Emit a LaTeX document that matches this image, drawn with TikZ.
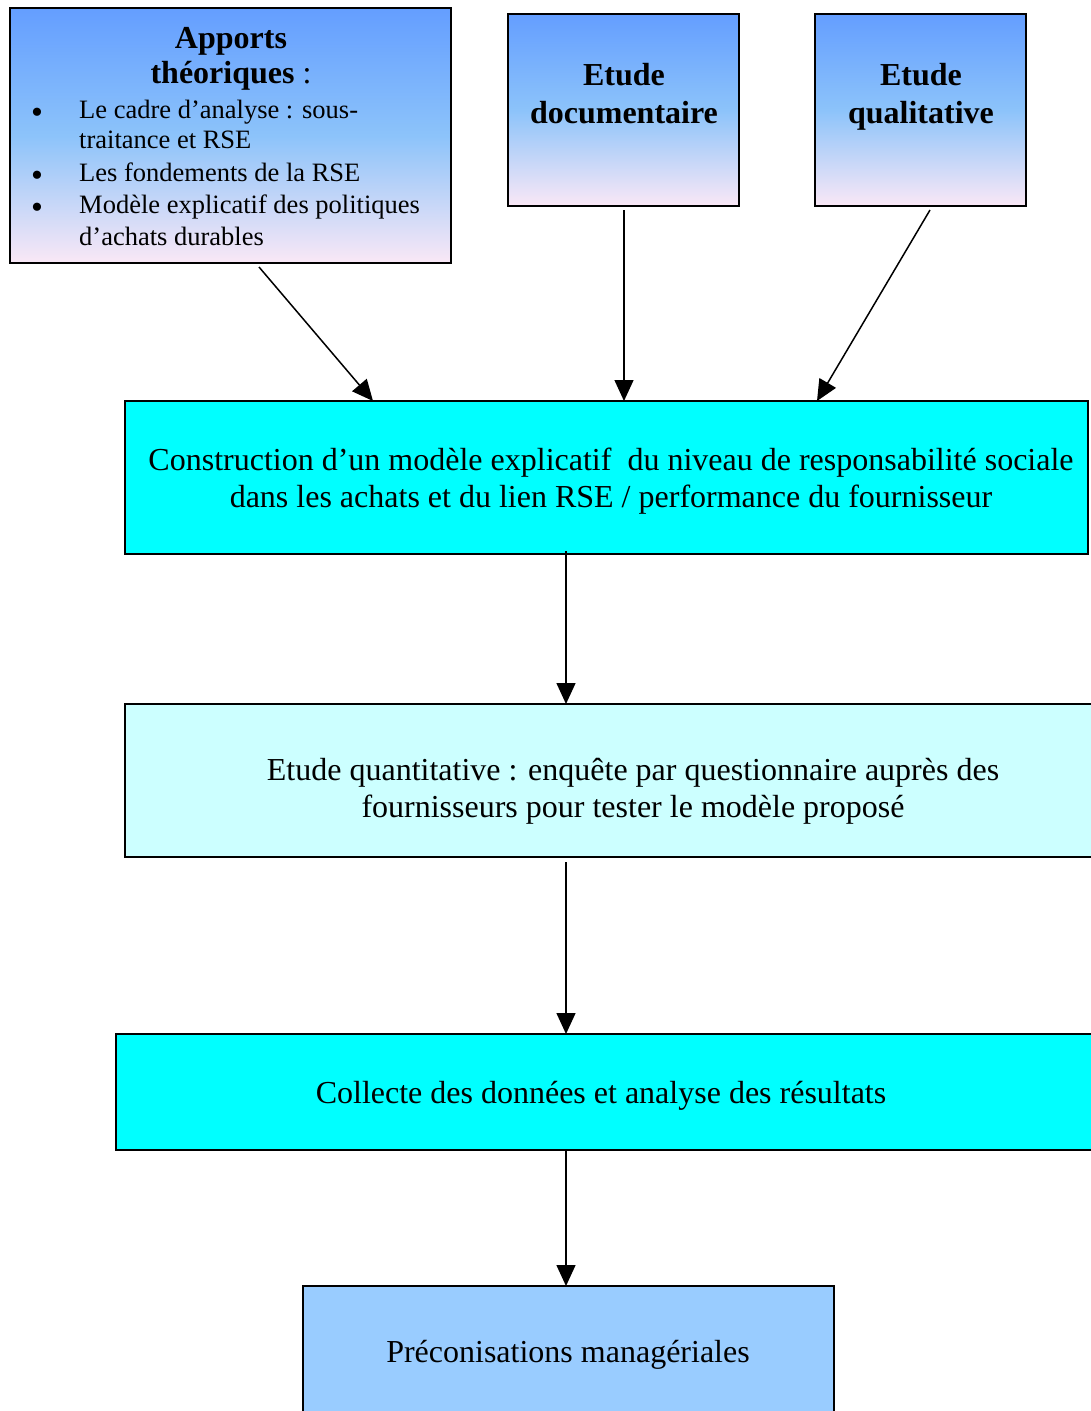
\documentclass[tikz,border=0pt]{standalone}
\usepackage{fontspec}
\setmainfont{Liberation Serif}
\usetikzlibrary{arrows.meta}
\definecolor{gtop}{RGB}{100,158,255}
\definecolor{gmid}{RGB}{140,195,250}
\definecolor{gbot}{RGB}{250,232,246}
\definecolor{cyanbox}{RGB}{0,255,255}
\definecolor{palecyan}{RGB}{204,255,255}
\definecolor{skyblue}{RGB}{153,204,255}
\tikzset{
  box/.style={draw=black, line width=1.6pt, inner sep=0pt, outer sep=0pt},
  gradbox/.style={box, top color=gtop, bottom color=gbot, middle color=gmid},
  arr/.style={line width=1.5pt, -{Triangle[length=21pt,width=19pt]}},
  body/.style={font=\fontsize{32}{37}\selectfont, inner sep=0pt, anchor=base},
  title/.style={font=\fontsize{32}{37}\selectfont\bfseries, inner sep=0pt, anchor=base},
  item/.style={font=\fontsize{26.5}{32}\selectfont, inner sep=0pt, anchor=base west},
  bul/.style={font=\fontsize{34}{32}\selectfont, inner sep=0pt, anchor=center},
}
\begin{document}
\begin{tikzpicture}[x=1pt,y=-1pt]
\useasboundingbox (0,0) rectangle (1090,1411);
% boxes
\node[gradbox, minimum width=441pt, minimum height=255pt, anchor=north west] (A) at (10,8) {};
\node[gradbox, minimum width=231pt, minimum height=192pt, anchor=north west] (B) at (508,14) {};
\node[gradbox, minimum width=211pt, minimum height=192pt, anchor=north west] (C) at (815,14) {};
\node[box, fill=cyanbox, minimum width=963pt, minimum height=153pt, anchor=north west] (D) at (125,401) {};
\node[box, fill=palecyan, minimum width=975pt, minimum height=153pt, anchor=north west] (E) at (125,704) {};
\node[box, fill=cyanbox, minimum width=984pt, minimum height=116pt, anchor=north west] (F) at (116,1034) {};
\node[box, fill=skyblue, minimum width=531pt, minimum height=140pt, anchor=north west] (G) at (303,1286) {};
% box A text
\node[title] (At1) at (231,48) {Apports};
\node[title] (At2) at (231,83) {théoriques \mdseries:};
\node[bul] (b1) at (37,116) {•};
\node[bul] (b2) at (37,179) {•};
\node[bul] (b3) at (37,211) {•};
\node[item] (i1a) at (79,118) {Le cadre d’analyse : sous-};
\node[item] (i1b) at (79,148) {traitance et RSE};
\node[item] (i2) at (79,181) {Les fondements de la RSE};
\node[item] (i3a) at (79,213) {Modèle explicatif des politiques};
\node[item] (i3b) at (79,245) {d’achats durables};
% box B, C text
\node[title] (Bt1) at (624,85) {Etude};
\node[title] (Bt2) at (624,123) {documentaire};
\node[title] (Ct1) at (921,85) {Etude};
\node[title] (Ct2) at (921,123) {qualitative};
% box D text
\node[body] (Dt1) at (611,470) {Construction d’un modèle explicatif\ \ du niveau de responsabilité sociale};
\node[body] (Dt2) at (611,507) {dans les achats et du lien RSE / performance du fournisseur};
% box E text
\node[body] (Et1) at (633,780) {Etude quantitative : enquête par questionnaire auprès des};
\node[body] (Et2) at (633,817) {fournisseurs pour tester le modèle proposé};
% box F, G text
\node[body] (Ft) at (601,1103) {Collecte des données et analyse des résultats};
\node[body] (Gt) at (568,1362) {Préconisations managériales};
% connector endpoints
\coordinate (a1) at (259,267);
\coordinate (a2) at (373,401);
\coordinate (b1s) at (624,210);
\coordinate (b2e) at (624,401);
\coordinate (c1) at (930,210);
\coordinate (c2) at (817,401);
\coordinate (d1) at (566,551);
\coordinate (e2) at (566,704);
\coordinate (e1) at (566,862);
\coordinate (f2) at (566,1034);
\coordinate (f1) at (566,1150);
\coordinate (g2) at (566,1286);
\draw[arr] (a1) -- (a2);
\draw[arr] (b1s) -- (b2e);
\draw[arr] (c1) -- (c2);
\draw[arr] (d1) -- (e2);
\draw[arr] (e1) -- (f2);
\draw[arr] (f1) -- (g2);
\end{tikzpicture}
\end{document}
